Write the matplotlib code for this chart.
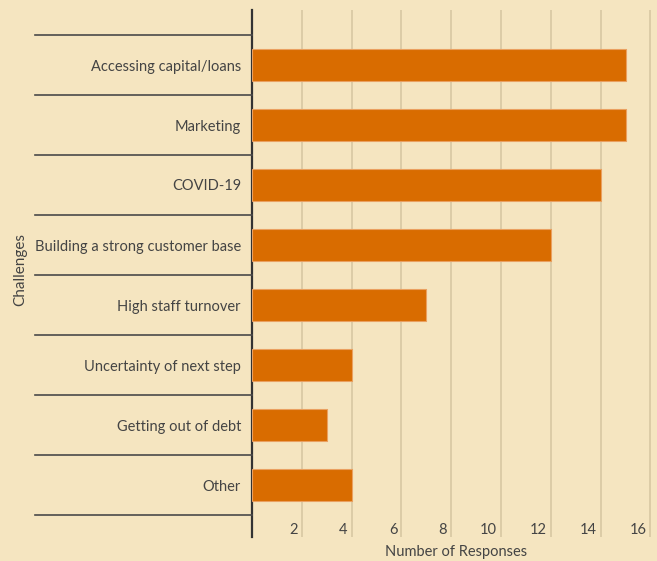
import matplotlib
matplotlib.use("Agg")
import matplotlib.pyplot as plt
import matplotlib.transforms as mtransforms
import numpy as np

# donnees
challenges = ["Accessing capital/loans", "Marketing", "COVID-19",
              "Building a strong customer base", "High staff turnover",
              "Uncertainty of next step", "Getting out of debt", "Other"]
responses = [15, 15, 14, 12, 7, 4, 3, 4]
xticks = [2, 4, 6, 8, 10, 12, 14, 16]

bg = "#f5e5c0"
orange = "#d96c00"
txt = "#444444"

plt.rcParams['font.family'] = ['Lato', 'DejaVu Sans']

W, H = 657, 561
fig = plt.figure(figsize=(W/100, H/100), dpi=100)
fig.patch.set_facecolor(bg)
ax = fig.add_axes([252/W, 1-537/H, (657-252)/W, (537-10)/H])
ax.set_facecolor(bg)

y = np.arange(len(challenges))
ax.barh(y, responses, height=0.53, color=orange, edgecolor="#eaa060", linewidth=0.8, zorder=3)

ax.set_xlim(0, 405/24.9)
ax.set_ylim(7.5 + 22/60, -0.5 - 25/60)

for v in xticks:
    ax.axvline(v, color="#d8c7a3", lw=1.2, zorder=1)

# lignes de separation des categories, a gauche de l'axe
x0 = (35-252)/405
for k in range(len(challenges)+1):
    ax.plot([x0, 0], [k-0.5, k-0.5], color="#4a4a4a", lw=1.2,
            transform=ax.get_yaxis_transform(), clip_on=False, zorder=4)

ax.set_yticks(y)
ax.set_yticklabels(challenges, fontsize=10.5, color=txt)
ax.tick_params(axis='y', length=0, pad=8)

ax.set_xticks(xticks)
ax.set_xticklabels([str(v) for v in xticks], fontsize=10.5, color=txt)
ax.tick_params(axis='x', length=0, pad=-10)
off = mtransforms.ScaledTranslation(-4/100, 0, fig.dpi_scale_trans)
for lab in ax.get_xticklabels():
    lab.set_ha('right')
    lab.set_transform(lab.get_transform() + off)

for s in ['top', 'right', 'bottom']:
    ax.spines[s].set_visible(False)
ax.spines['left'].set_color("#333333")
ax.spines['left'].set_linewidth(1.6)

fig.text(456/W, 1-552/H, "Number of Responses", ha='center', va='center', fontsize=10.5, color=txt)
fig.text(20/W, 1-270/H, "Challenges", ha='center', va='center', rotation=90, fontsize=11, color=txt)

fig.savefig("out.png", dpi=100, facecolor=bg)
